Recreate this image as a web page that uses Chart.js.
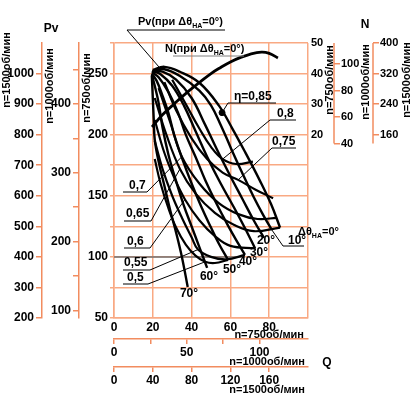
<!DOCTYPE html>
<html>
<head>
<meta charset="utf-8">
<script src="https://cdn.jsdelivr.net/npm/chart.js@4/dist/chart.umd.min.js"></script>
<style>
  html, body { margin: 0; padding: 0; background: #fff; }
</style>
</head>
<body>
<canvas id="fanChart" width="413" height="396"></canvas>
<script>
// Pv curves (Q, Pv at n=750) for each guide vane angle
const pvCurve0  = [[20,253],[26,255.5],[34,251.5],[44,242.5],[54,224],[61,205],[67.5,186],[75,163],[81,143],[85.6,124]];
const pvCurve10 = [[20,252.5],[26,253.5],[34,248],[44,236],[50,224],[55,208],[60,190],[66,169],[72,149],[77,134],[81.4,122]];
const pvCurve20 = [[20,252],[25,251.5],[32,245],[40,230],[47,208],[53,188],[60,166],[66,148],[72,130],[77.3,115.6]];
const pvCurve30 = [[19.5,252],[24,249.5],[30,240],[36,224],[42,203],[48,182],[55,160],[62,140],[68,122],[72.7,107]];
const pvCurve40 = [[19.5,251],[23,247],[28,235],[33,218],[37,200],[42,182],[47,163],[53,143],[59,125],[64,111],[67.5,101.6]];
const pvCurve50 = [[19.5,250],[22,244],[25,232],[28,218],[31,200],[35,181],[40,160],[45,141],[50,124],[54,111],[58.8,97.5]];
const pvCurve60 = [[19.5,249],[21,240],[23,226],[25,206],[28,184],[32,162],[36,142],[40,125],[44,108],[48,91]];
const pvCurve70 = [[19.5,248],[20,230],[20.5,212],[21,196],[23,178],[26,158],[29,138],[32,120],[35,100],[38,75.4]];
const pvCurves = [pvCurve0, pvCurve10, pvCurve20, pvCurve30, pvCurve40, pvCurve50, pvCurve60, pvCurve70];
const angleNames = ['0°','10°','20°','30°','40°','50°','60°','70°'];

// efficiency lines
const eta80 = [[30,245],[37,225],[44,205],[50,190],[56,180],[63,176],[71.6,178]];
const eta75 = [[26,243],[32,220],[40,197],[48,180],[56,169],[64,163],[73,155],[82,148]];
const eta70 = [[23,238],[29,210],[35,182],[44,160],[54,144],[64,135],[74,131],[84,132]];
const eta65 = [[21,230],[27,200],[34,172],[42,152],[52,136],[62,126],[72,121],[85.6,124]];
const eta60 = [[21,212],[26,185],[31,165],[36.6,147],[44,130],[52,117],[60,109],[72.7,107]];
const eta55 = [[21,195],[25,172],[30,150],[35,132],[40,116],[43.3,106],[50,100],[58,98],[67.5,101.6]];
const eta50 = [[21,180],[24,160],[28,140],[32,124],[37,110],[42,101],[47,96],[52,95],[58.8,97.5]];
const etaCurves = [eta80, eta75, eta70, eta65, eta60, eta55, eta50];
const etaPeak = [[55.7,218]];

// power curve at 0° (N at n=750)
const powerCurve0 = [[19.6,22.5],[25,26.5],[31.4,30.3],[38,34],[44.3,37.2],[50,40],[55,42],[60,43.8],[65,45.2],[70,46.3],[76,47],[80,46.6],[84.5,45.1]];

const refLine100 = [[0,100],[67.5,100]];

// ticks
const qTicks750 = [0,20,40,60,80,100];
const qLabels750 = [0,20,40,60,80];
const qTicks1000 = [0,25,50,75,100];
const qLabels1000 = [0,50,100];
const qTicks1500 = [0,40,80,120,160];
const pvTicks750 = [50,75,100,125,150,175,200,225,250,275];
const pvLabels750 = [50,100,150,200,250];
const pvTicks1000 = [100,150,200,250,300,350,400,450];
const pvLabels1000 = [100,200,300,400];
const pvTicks1500 = [200,300,400,500,600,700,800,900,1000];
const nTicks750 = [20,30,40,50];
const nTicks1000 = [40,60,80,100];
const nTicks1500 = [160,240,320,400];

const axisColor = '#f28c5f';
const gridColor = '#f9a983';
const FONT = '"Liberation Sans", Arial, sans-serif';
const tickFont = { family: FONT, size: 12, weight: 'bold' };
const sideFont = { family: FONT, size: 11, weight: 'bold' };

const pts = arr => arr.map(([x, y]) => ({ x, y }));
const setTicks = vals => s => { s.ticks = vals.map(v => ({ value: v })); };
const only = list => v => list.includes(v) ? String(v) : '';
const plain = v => String(v);

const datasets = [];
pvCurves.forEach((c, i) => datasets.push({
  label: 'Pv ' + angleNames[i], data: pts(c), borderColor: '#000', borderWidth: 2.4, tension: 0.4
}));
etaCurves.forEach(c => datasets.push({
  label: 'eta', data: pts(c), borderColor: '#000', borderWidth: 2.2, tension: 0.4
}));
datasets.push({ label: 'N 0°', data: pts(powerCurve0), yAxisID: 'yN750', borderColor: '#000', borderWidth: 2.8, tension: 0.4 });
datasets.push({ label: 'ref', data: pts(refLine100), borderColor: '#707070', borderWidth: 1.5 });
datasets.push({ label: 'eta 0.85', data: pts(etaPeak), showLine: false, pointRadius: 3, backgroundColor: '#000', borderColor: '#000' });

function vText(ctx, t, x, y) {
  ctx.save();
  ctx.translate(x, y);
  ctx.rotate(-Math.PI / 2);
  ctx.textAlign = 'center';
  ctx.textBaseline = 'middle';
  ctx.fillText(t, 0, 0);
  ctx.restore();
}

function deltaText(ctx, pre, x, y, post) {
  ctx.textAlign = 'left';
  ctx.font = 'bold 11px ' + FONT;
  ctx.fillText(pre, x, y);
  const w = ctx.measureText(pre).width;
  ctx.font = 'bold 7px ' + FONT;
  ctx.fillText('НА', x + w, y + 3);
  const w2 = ctx.measureText('НА').width;
  ctx.font = 'bold 11px ' + FONT;
  ctx.fillText(post, x + w + w2, y);
}

const annotate = {
  id: 'annotate',
  afterDraw(chart) {
    const { ctx, scales } = chart;
    const px = q => scales.x.getPixelForValue(q);
    const py = p => scales.y.getPixelForValue(p);
    ctx.save();
    ctx.fillStyle = '#000';
    ctx.textBaseline = 'alphabetic';

    // short N axis lines
    ctx.strokeStyle = axisColor;
    ctx.lineWidth = 1.5;
    const yEnd = scales.yN1000.getPixelForValue(40);
    [scales.yN1000.left, scales.yN1500.left].forEach(x => {
      ctx.beginPath(); ctx.moveTo(x, chart.chartArea.top); ctx.lineTo(x, yEnd); ctx.stroke();
    });

    // axis titles
    ctx.font = 'bold 11px ' + FONT;
    vText(ctx, 'n=1500об/мин', 7, 70);
    vText(ctx, 'n=1000об/мин', 50, 86);
    vText(ctx, 'n=750об/мин', 87, 88);
    vText(ctx, 'n=750об/мин', 330, 80);
    vText(ctx, 'n=1000об/мин', 366, 82);
    vText(ctx, 'n=1500об/мин', 407, 80);
    ctx.textAlign = 'right';
    ctx.fillText('n=750об/мин', 304, 338);
    ctx.fillText('n=1000об/мин', 305, 365);
    ctx.fillText('n=1500об/мин', 305, 393);
    ctx.font = 'bold 12px ' + FONT;
    ctx.textAlign = 'center';
    ctx.fillText('Pv', 51, 32);
    ctx.fillText('N', 365, 28);
    ctx.fillText('Q', 327, 366);

    // underlined labels with leaders
    const tag = (ux1, ux2, uy, fromRight, q, p, color) => {
      ctx.strokeStyle = color || '#000';
      ctx.lineWidth = 1;
      ctx.beginPath(); ctx.moveTo(ux1, uy); ctx.lineTo(ux2, uy); ctx.stroke();
      if (q !== undefined) {
        ctx.strokeStyle = '#000';
        ctx.beginPath();
        ctx.moveTo(fromRight ? ux2 : ux1, uy);
        ctx.lineTo(px(q), py(p));
        ctx.stroke();
      }
    };

    deltaText(ctx, 'Pv(при Δθ', 138, 25, '=0°)');
    tag(127, 225, 30, false, 23.5, 254.8);
    ctx.fillStyle = '#000';
    deltaText(ctx, 'N(при Δθ', 165, 52, '=0°)');
    tag(173, 244, 56, false, undefined, undefined, '#808080');

    ctx.font = 'bold 12px ' + FONT;
    ctx.textAlign = 'left';
    ctx.fillText('η=0,85', 234, 100);
    tag(228, 276, 103, false, etaPeak[0][0], etaPeak[0][1]);
    ctx.fillText('0,8', 277, 117);
    tag(270, 296, 120, false, 56, 180);
    ctx.fillText('0,75', 272, 145);
    tag(272, 296, 148, false, 64, 163);
    ctx.fillText('0,7', 129, 189);
    tag(123, 147, 192, true, 35, 182);
    ctx.fillText('0,65', 126, 217);
    tag(124, 151, 221, true, 34, 172);
    ctx.fillText('0,6', 127, 245);
    tag(124, 150, 248, true, 36.6, 147);
    ctx.fillText('0,55', 124, 266);
    tag(123, 150, 270, true, 43.3, 106);
    ctx.fillText('0,5', 127, 281);
    tag(123, 148, 284, true, 47, 96);

    // angle labels
    ctx.fillText('10°', 288, 244);
    tag(283, 304, 246, false, pvCurve10[pvCurve10.length - 1][0], pvCurve10[pvCurve10.length - 1][1]);
    ctx.textAlign = 'center';
    ctx.textBaseline = 'middle';
    [['20°', 266, 241], ['30°', 259, 253], ['40°', 248, 262], ['50°', 232, 270], ['60°', 209, 277], ['70°', 189, 294]]
      .forEach(([t, x, y]) => ctx.fillText(t, x, y));
    ctx.textBaseline = 'alphabetic';
    deltaText(ctx, 'Δθ', 298, 235, '=0°');
    ctx.restore();
  }
};

new Chart(document.getElementById('fanChart'), {
  type: 'scatter',
  data: { datasets },
  options: {
    responsive: false,
    animation: false,
    layout: { padding: { top: 43, left: 0, right: 0, bottom: 0 } },
    plugins: { legend: { display: false }, tooltip: { enabled: false } },
    elements: { point: { radius: 0 } },
    showLine: true,
    scales: {
      x: {
        type: 'linear', position: 'bottom', min: 0, max: 100, weight: 0,
        afterBuildTicks: setTicks(qTicks750), afterFit: s => { s.height = 21; },
        grid: { color: gridColor, lineWidth: 1.5, drawTicks: false },
        border: { color: gridColor, width: 1.5 },
        ticks: { font: tickFont, color: '#000', padding: 2, autoSkip: false, maxRotation: 0, callback: only(qLabels750) }
      },
      x1000: {
        type: 'linear', position: 'bottom', min: 0, max: 100 * 4 / 3, weight: 1,
        afterBuildTicks: setTicks(qTicks1000), afterFit: s => { s.height = 28; },
        grid: { drawOnChartArea: false, color: axisColor, lineWidth: 1.5, tickLength: 5 },
        border: { color: axisColor, width: 1.5 },
        ticks: { font: tickFont, color: '#000', padding: 1, autoSkip: false, maxRotation: 0, callback: only(qLabels1000) }
      },
      x1500: {
        type: 'linear', position: 'bottom', min: 0, max: 200, weight: 2,
        afterBuildTicks: setTicks(qTicks1500), afterFit: s => { s.height = 29; },
        grid: { drawOnChartArea: false, color: axisColor, lineWidth: 1.5, tickLength: 5 },
        border: { color: axisColor, width: 1.5 },
        ticks: { font: tickFont, color: '#000', padding: 1, autoSkip: false, maxRotation: 0, callback: plain }
      },
      y: {
        type: 'linear', position: 'left', min: 50, max: 275, weight: 0,
        afterBuildTicks: setTicks(pvTicks750), afterFit: s => { s.width = 35; },
        grid: { color: gridColor, lineWidth: 1.5, tickLength: 4 },
        border: { color: gridColor, width: 1.5 },
        ticks: { font: tickFont, color: '#000', padding: 2, autoSkip: false, callback: only(pvLabels750) }
      },
      y1000: {
        type: 'linear', position: 'left', min: 50 * 16 / 9, max: 275 * 16 / 9, weight: 1,
        afterBuildTicks: setTicks(pvTicks1000), afterFit: s => { s.width = 37; },
        grid: { drawOnChartArea: false, color: axisColor, lineWidth: 1.5, tickLength: 6 },
        border: { color: axisColor, width: 1.5 },
        ticks: { font: tickFont, color: '#000', padding: 2, autoSkip: false, callback: only(pvLabels1000) }
      },
      y1500: {
        type: 'linear', position: 'left', min: 200, max: 1100, weight: 2,
        afterBuildTicks: setTicks(pvTicks1500), afterFit: s => { s.width = 42; },
        grid: { drawOnChartArea: false, color: axisColor, lineWidth: 1.5, tickLength: 6 },
        border: { color: axisColor, width: 1.5 },
        ticks: { font: tickFont, color: '#000', padding: 2, autoSkip: false, callback: plain }
      },
      yN750: {
        type: 'linear', position: 'right', min: -40, max: 50, weight: 0,
        afterBuildTicks: setTicks(nTicks750), afterFit: s => { s.width = 26; },
        grid: { drawOnChartArea: false, drawTicks: false },
        border: { display: false },
        ticks: { font: sideFont, color: '#000', padding: 3, autoSkip: false, callback: plain }
      },
      yN1000: {
        type: 'linear', position: 'right', min: -92, max: 116, weight: 1,
        afterBuildTicks: setTicks(nTicks1000), afterFit: s => { s.width = 39; },
        grid: { drawOnChartArea: false, color: axisColor, lineWidth: 1.5, tickLength: 6 },
        border: { display: false },
        ticks: { font: sideFont, color: '#000', padding: 1, autoSkip: false, callback: plain }
      },
      yN1500: {
        type: 'linear', position: 'right', min: -320, max: 400, weight: 2,
        afterBuildTicks: setTicks(nTicks1500), afterFit: s => { s.width = 40; },
        grid: { drawOnChartArea: false, color: axisColor, lineWidth: 1.5, tickLength: 6 },
        border: { display: false },
        ticks: { font: sideFont, color: '#000', padding: 1, autoSkip: false, callback: plain }
      }
    }
  },
  plugins: [annotate]
});
</script>
</body>
</html>
